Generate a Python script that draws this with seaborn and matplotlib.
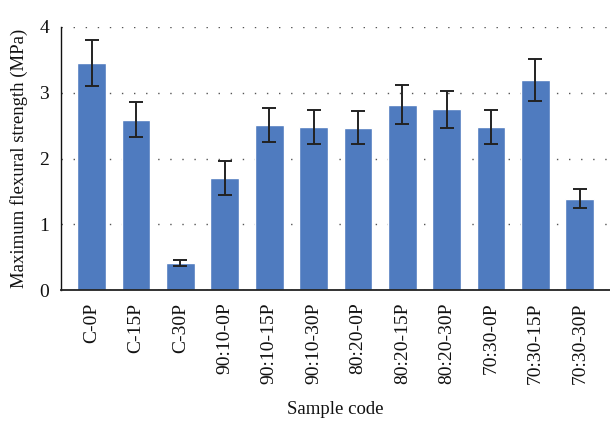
import matplotlib
matplotlib.use("Agg")
import matplotlib.pyplot as plt
import seaborn as sns
import pandas as pd

samples = ["C-0P", "C-15P", "C-30P", "90:10-0P", "90:10-15P", "90:10-30P",
           "80:20-0P", "80:20-15P", "80:20-30P", "70:30-0P", "70:30-15P", "70:30-30P"]
strength = [3.45, 2.59, 0.41, 1.70, 2.51, 2.48, 2.47, 2.82, 2.75, 2.48, 3.20, 1.39]
std_dev = [0.35, 0.27, 0.05, 0.26, 0.26, 0.26, 0.25, 0.29, 0.28, 0.26, 0.32, 0.14]

df = pd.DataFrame({"sample": samples, "strength": strength})

sns.set_theme(style="white")
plt.rcParams["font.family"] = ["Liberation Serif", "DejaVu Serif"]

fig = plt.figure(figsize=(6.10, 4.21), dpi=100)
ax = fig.add_axes([0.1008, 0.311, 0.8992, 0.625])

sns.barplot(data=df, x="sample", y="strength", color="#4F7BBF", saturation=1,
            width=0.65, errorbar=None, ax=ax, zorder=2)
ax.errorbar(range(len(samples)), strength, yerr=std_dev, fmt="none",
            ecolor="#222222", elinewidth=1.4, capsize=5, capthick=1.4, zorder=3)

ax.set_xlim(-0.68, len(samples) - 1 + 0.68)
ax.set_ylim(0, 4)
ax.set_yticks([0, 1, 2, 3, 4])
ax.yaxis.grid(True, color="#555555", linewidth=1.0, linestyle=(0, (1, 7.7)), zorder=0)
ax.xaxis.grid(False)
ax.set_axisbelow(True)

for side in ["top", "right"]:
    ax.spines[side].set_visible(False)
ax.spines["left"].set_color("#111111")
ax.spines["bottom"].set_color("#222222")
ax.spines["left"].set_linewidth(1.0)
ax.spines["bottom"].set_linewidth(1.3)

ax.tick_params(axis="x", length=0, pad=9, labelsize=14, rotation=90, colors="#111111")
ax.tick_params(axis="y", length=0, pad=9, labelsize=14, colors="#111111")

ax.set_xlabel("Sample code", fontsize=13.5, color="#111111", labelpad=12)
ax.set_ylabel("Maximum flexural strength (MPa)", fontsize=13.5, color="#111111", labelpad=8)

fig.savefig("out.png", dpi=100)
